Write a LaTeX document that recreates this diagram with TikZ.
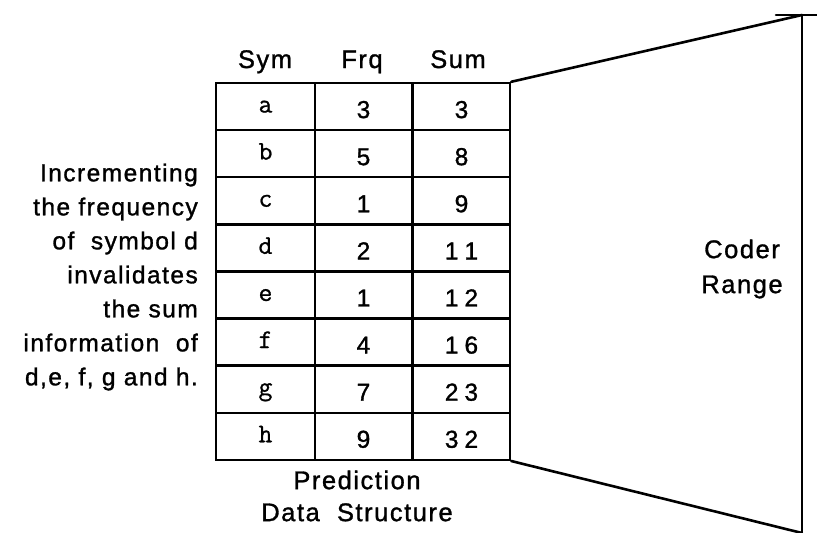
\documentclass[tikz,border=0pt]{standalone}
\usepackage{fontspec}
\setmainfont{Liberation Sans}[LetterSpace=6, FakeBold=1.2]
\setmonofont{Latin Modern Mono}[FakeBold=0.8]
\newcommand\tw[2]{#1\hspace{6pt}#2}
\begin{document}
\begin{tikzpicture}[x=1pt,y=-1pt,line width=2.4pt,
  cell/.style={draw, minimum width=97pt, minimum height=47.1pt, inner sep=0pt,
    text height=23pt, text depth=0pt, font=\fontsize{24.5}{28}\selectfont},
  symcell/.style={cell, minimum width=99pt, text height=12pt, font=\ttfamily\fontsize{27}{30}\selectfont},
  lbl/.style={inner sep=0pt, font=\fontsize{25.5}{30}\selectfont},
  edge/.style={line width=2.6pt, line cap=round}]
\useasboundingbox (0,0) rectangle (817,533);
% table
\foreach \s/\f/\u [count=\i] in {a/3/3, b/5/8, c/1/9, d/2/{\tw11}, e/1/{\tw12}, f/4/{\tw16}, g/7/{\tw23}, h/9/{\tw32}}{
  \pgfmathsetmacro\yy{83+47.1*(\i-0.5)}
  \node[symcell] (sym\i) at (265.5,\yy) {\s};
  \node[cell] (frq\i) at (363.5,\yy) {\f};
  \node[cell] (sum\i) at (461.5,\yy) {\u};
}
% headers
\node[lbl, anchor=base] (hsym) at (265,68) {Sym};
\node[lbl, anchor=base] (hfrq) at (362,68) {Frq};
\node[lbl, anchor=base] (hsum) at (458,68) {Sum};
% side note
\node[inner sep=0pt, align=right, anchor=east, font=\fontsize{24.5}{34}\selectfont] (note) at (199,277)
  {Incrementing\\the frequency\\of\ \ symbol d\\invalidates\\the sum\\information\ \ of\\d,e, f, g and h.};
% caption
\node[lbl, align=center, font=\fontsize{25.5}{32}\selectfont] (pred) at (357,496) {Prediction\\Data\ \ Structure};
% coder range
\node[lbl, align=center, font=\fontsize{25.5}{35}\selectfont] (coder) at (742,269) {Coder\\Range};
% range lines
\coordinate (rt) at (802,15);
\coordinate (rbot) at (802,540);
\coordinate (rb) at (802,533);
\coordinate (tk1) at (776,15);
\coordinate (tk2) at (820,15);
\draw[edge] (sum1.north east) -- (rt);
\draw[edge] (sum8.south east) -- (rb);
\draw[edge] (rt) -- (rbot);
\draw[edge] (tk1) -- (tk2);
\end{tikzpicture}
\end{document}
